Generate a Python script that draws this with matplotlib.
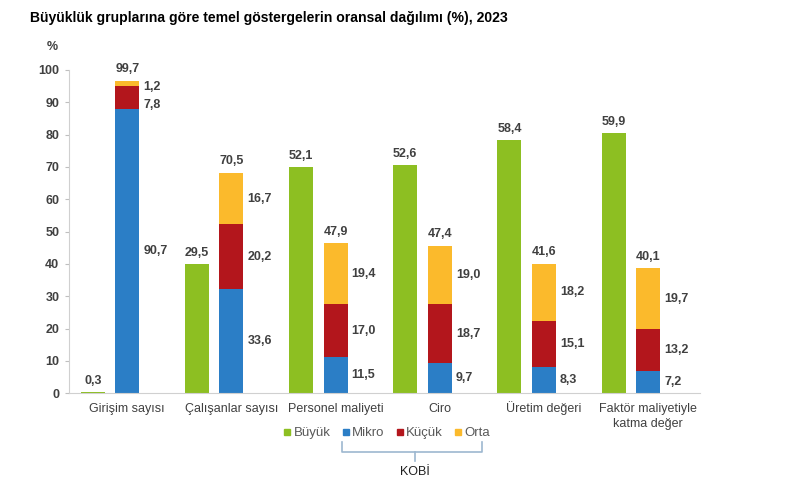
import matplotlib
matplotlib.use("Agg")
from matplotlib import pyplot as plt
from matplotlib.lines import Line2D
import numpy as np

plt.rcParams["font.family"] = ["Liberation Sans", "DejaVu Sans"]

# Categories and values (labels as printed, heights as drawn in the picture)
categories = ["Girişim sayısı", "Çalışanlar sayısı", "Personel maliyeti",
              "Ciro", "Üretim değeri", "Faktör maliyetiyle\nkatma değer"]

buyuk_label = [0.3, 29.5, 52.1, 52.6, 58.4, 59.9]
buyuk_bar = [0.3, 39.9, 69.9, 70.5, 78.3, 80.4]

kobi_total = [99.7, 70.5, 47.9, 47.4, 41.6, 40.1]
mikro_label = [90.7, 33.6, 11.5, 9.7, 8.3, 7.2]
kucuk_label = [7.8, 20.2, 17.0, 18.7, 15.1, 13.2]
orta_label = [1.2, 16.7, 19.4, 19.0, 18.2, 19.7]

mikro_bar = [87.9, 32.3, 11.3, 9.3, 8.2, 7.0]
kucuk_bar = [7.2, 20.0, 16.2, 18.2, 14.3, 12.8]
orta_bar = [1.6, 15.9, 18.9, 18.2, 17.5, 18.9]

c_buyuk = "#8DBF22"
c_mikro = "#2B7EC6"
c_kucuk = "#B3161C"
c_orta = "#FBBA2C"
txt = "#404040"

def fmt(v):
    return f"{v:.1f}".replace(".", ",")

fig = plt.figure(figsize=(8, 4.88), dpi=100)
ax = fig.add_axes([69 / 800, 1 - 393.3 / 488, 631 / 800, 323.3 / 488])

x = np.arange(len(categories))
xk = x + 0.33
w = 0.23

ax.bar(x, buyuk_bar, w, color=c_buyuk)
ax.bar(xk, mikro_bar, w, color=c_mikro)
ax.bar(xk, kucuk_bar, w, bottom=mikro_bar, color=c_kucuk)
b2 = np.array(mikro_bar) + np.array(kucuk_bar)
ax.bar(xk, orta_bar, w, bottom=b2, color=c_orta)
tops = b2 + np.array(orta_bar)

for i in range(len(categories)):
    ax.annotate(fmt(buyuk_label[i]), (x[i], buyuk_bar[i]), xytext=(0, 4),
                textcoords="offset points", ha="center", va="bottom",
                fontsize=9, fontweight="bold", color=txt)
    ax.annotate(fmt(kobi_total[i]), (xk[i], tops[i]), xytext=(0, 4),
                textcoords="offset points", ha="center", va="bottom",
                fontsize=9, fontweight="bold", color=txt)
    # segment labels right of the stack, kept apart when segments are thin
    ys = [min(b2[i] + orta_bar[i] / 2, tops[i] - 2),
          mikro_bar[i] + kucuk_bar[i] / 2,
          mikro_bar[i] / 2]
    for k in range(1, 3):
        ys[k] = min(ys[k], ys[k - 1] - 5.6)
    vals = [orta_label[i], kucuk_label[i], mikro_label[i]]
    for yv, v in zip(ys, vals):
        ax.annotate(fmt(v), (xk[i] + w / 2, yv), xytext=(3, 0),
                    textcoords="offset points", ha="left", va="center",
                    fontsize=9, fontweight="bold", color=txt)

    # category labels, one baseline per line so all rows line up
    for j, line in enumerate(categories[i].split("\n")):
        ax.annotate(line, (xk[i], 0), xytext=(0, -13.5 - j * 10.8),
                    textcoords="offset points", ha="center", va="baseline",
                    fontsize=9, color=txt, annotation_clip=False)

ax.set_xlim(-0.23, 5.83)
ax.set_ylim(0, 100)
ax.set_yticks(range(0, 101, 10))
ax.set_xticks([])
ax.tick_params(axis="y", length=3, color="#BFBFBF", labelsize=9,
               labelcolor=txt, pad=4)
for t in ax.get_yticklabels():
    t.set_fontweight("bold")
for s in ["top", "right"]:
    ax.spines[s].set_visible(False)
for s in ["left", "bottom"]:
    ax.spines[s].set_color("#D0D0D0")

fig.text(52 / 800, 1 - 47 / 488, "%", ha="center", va="center",
         fontsize=9, fontweight="bold", color=txt)
fig.text(30 / 800, 1 - 18 / 488,
         "Büyüklük gruplarına göre temel göstergelerin oransal dağılımı (%), 2023",
         ha="left", va="center", fontsize=10.1, fontweight="bold", color="black")

names = ["Büyük", "Mikro", "Küçük", "Orta"]
cols = [c_buyuk, c_mikro, c_kucuk, c_orta]
handles = [Line2D([], [], marker="s", linestyle="none", markersize=4.5,
                  markerfacecolor=c, markeredgecolor=c) for c in cols]
fig.legend(handles, names, loc="center", bbox_to_anchor=(387 / 800, 1 - 433 / 488),
           ncol=4, frameon=False, fontsize=9.5, labelcolor="#595959",
           handlelength=0.5, handletextpad=0.25, columnspacing=0.9)

# brace under the KOBİ legend entries
bc = "#9DB7D0"
def fx(p):
    return p / 800
def fy(p):
    return 1 - p / 488
fig.add_artist(Line2D([fx(342), fx(342), fx(482), fx(482)],
                      [fy(442), fy(452), fy(452), fy(442)], color=bc, lw=1.2))
fig.add_artist(Line2D([fx(415), fx(415)], [fy(452), fy(461)], color=bc, lw=1.2))
fig.text(fx(415), fy(472), "KOBİ", ha="center", va="center", fontsize=9,
         color="#202020")

fig.savefig("out.png", dpi=100)
